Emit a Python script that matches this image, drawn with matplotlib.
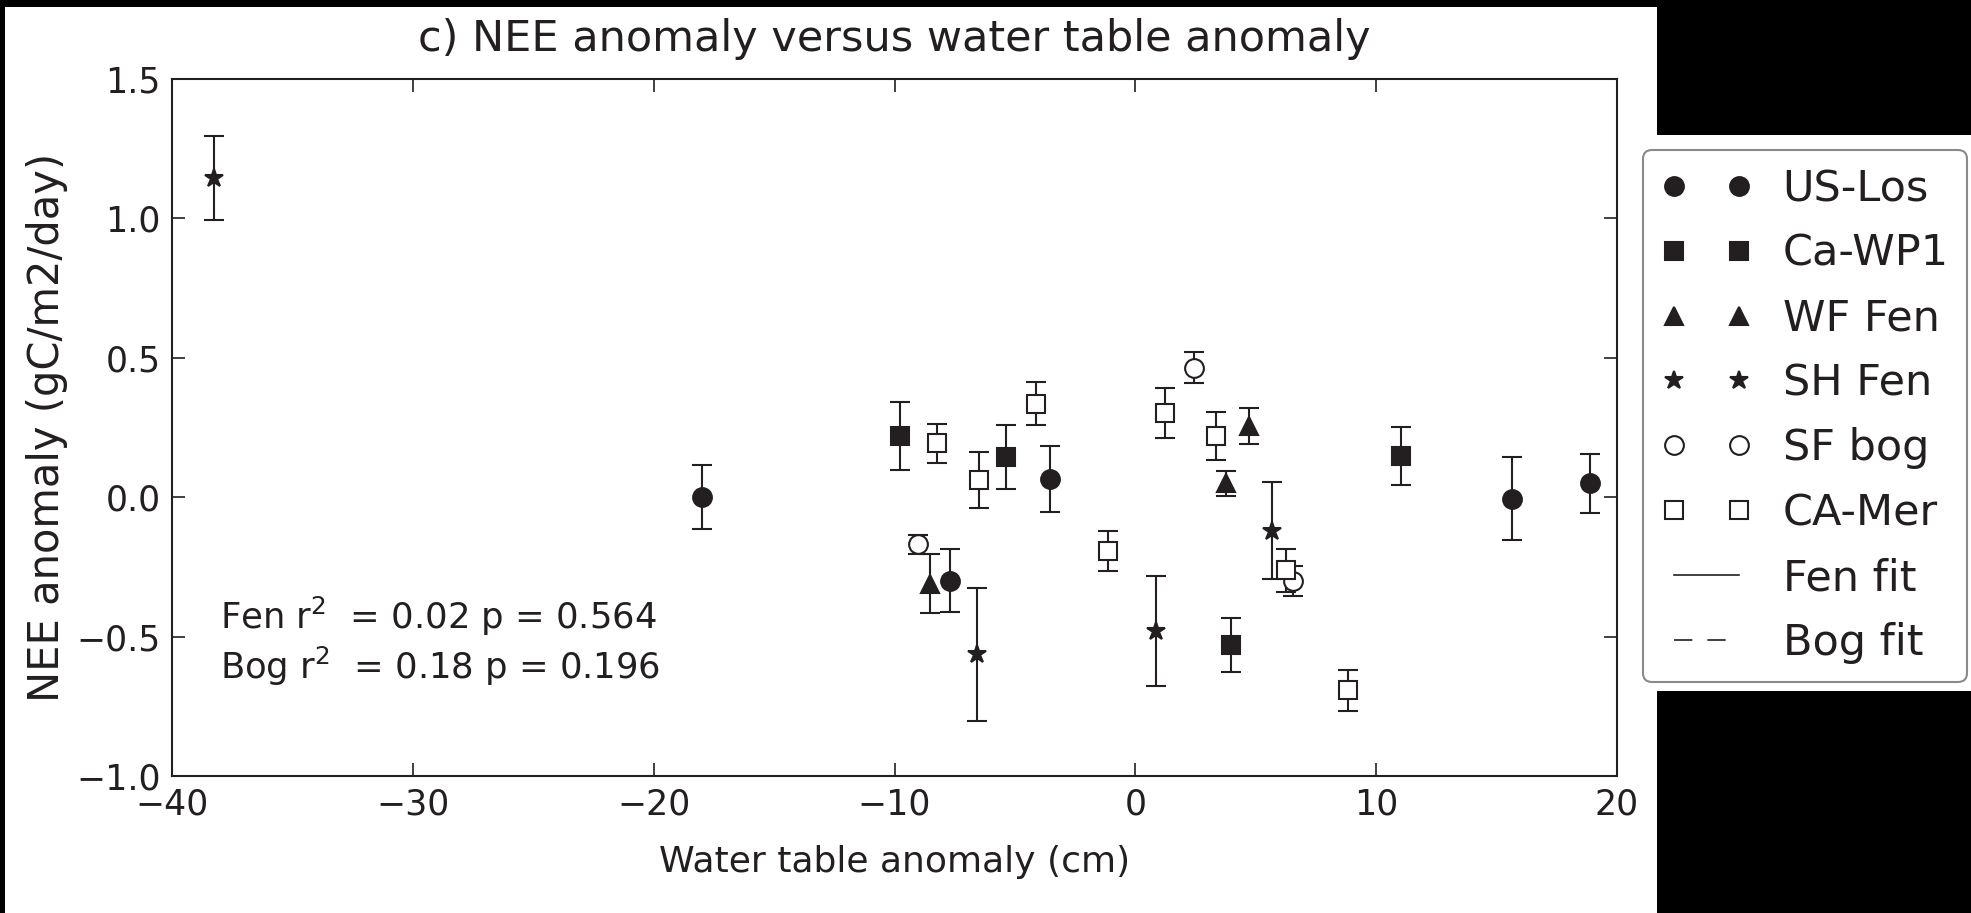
import matplotlib
matplotlib.use('Agg')
import matplotlib.pyplot as plt
from matplotlib.patches import Rectangle

# site means (water table anomaly in cm, NEE anomaly) with standard errors
los_x = [-18.0, -7.69, -3.54, 15.66, 18.89]
los_y = [0.0, -0.30, 0.065, -0.005, 0.05]
los_err = [0.115, 0.113, 0.118, 0.15, 0.105]

wp1_x = [-9.77, -5.37, 3.98, 11.04]
wp1_y = [0.22, 0.145, -0.53, 0.147]
wp1_err = [0.122, 0.115, 0.097, 0.104]

wf_x = [-8.52, 3.77, 4.70]
wf_y = [-0.31, 0.05, 0.255]
wf_err = [0.105, 0.044, 0.064]

sh_x = [-38.25, -6.58, 0.85, 5.67]
sh_y = [1.145, -0.563, -0.48, -0.12]
sh_err = [0.15, 0.238, 0.197, 0.174]

sf_x = [-9.01, 2.44, 6.54]
sf_y = [-0.169, 0.465, -0.30]
sf_err = [0.033, 0.055, 0.055]

mer_x = [-8.22, -6.49, -4.13, -1.12, 1.24, 3.34, 6.25, 8.81]
mer_y = [0.193, 0.063, 0.336, -0.193, 0.302, 0.219, -0.262, -0.692]
mer_err = [0.07, 0.10, 0.078, 0.072, 0.09, 0.087, 0.078, 0.073]

fen_stats = 'Fen r$^2$  = 0.02 p = 0.564'
bog_stats = 'Bog r$^2$  = 0.18 p = 0.196'

INK = '#231f20'

fig = plt.figure(figsize=(19.71, 9.13), dpi=100, facecolor='black')
# white paper behind the plot and behind the legend
fig.add_artist(Rectangle((0.0025, 0.0), 0.838, 0.992, transform=fig.transFigure,
                         facecolor='white', edgecolor='none', zorder=-10))
fig.add_artist(Rectangle((0.8336, 0.2431), 0.17, 0.6090, transform=fig.transFigure,
                         facecolor='white', edgecolor='none', zorder=-10))

ax = fig.add_axes([0.0873, 0.150, 0.7331, 0.7634])

sites = [
    (los_x, los_y, los_err, 'o', INK, 'US-Los'),
    (wp1_x, wp1_y, wp1_err, 's', INK, 'Ca-WP1'),
    (wf_x, wf_y, wf_err, '^', INK, 'WF Fen'),
    (sh_x, sh_y, sh_err, '*', INK, 'SH Fen'),
    (sf_x, sf_y, sf_err, 'o', 'white', 'SF bog'),
    (mer_x, mer_y, mer_err, 's', 'white', 'CA-Mer'),
]

for x, y, err, mk, face, name in sites:
    ax.errorbar(x, y, yerr=err, fmt='none', ecolor=INK, elinewidth=1.5,
                capsize=7, capthick=1.5)
for x, y, err, mk, face, name in sites:
    ax.plot(x, y, ls='none', marker=mk, markersize=13.5, markerfacecolor=face,
            markeredgecolor=INK, markeredgewidth=1.5, label=name)

# regression lines only appear in the legend
ax.plot([], [], color=INK, lw=1.2, ls='-', label='Fen fit')
ax.plot([], [], color=INK, lw=1.2, ls=(0, (11, 9)), label='Bog fit')

ax.text(0.033, 0.2296, fen_stats, transform=ax.transAxes, fontsize=25.5,
        color=INK, va='center', ha='left')
ax.text(0.033, 0.158, bog_stats, transform=ax.transAxes, fontsize=25.5,
        color=INK, va='center', ha='left')

ax.set_xlim(-40, 20)
ax.set_ylim(-1.0, 1.5)
ax.set_xticks([-40, -30, -20, -10, 0, 10, 20])
ax.set_yticks([-1.0, -0.5, 0.0, 0.5, 1.0, 1.5])
ax.tick_params(direction='in', length=9.5, width=1.2, top=True, right=True,
               labelsize=25, pad=8, colors=INK)
for s in ax.spines.values():
    s.set_linewidth(1.5)
    s.set_color(INK)

ax.set_title('c) NEE anomaly versus water table anomaly', fontsize=31,
             color=INK, pad=20)
ax.set_xlabel('Water table anomaly (cm)', fontsize=26, color=INK, labelpad=17)
ax.set_ylabel('NEE anomaly (gC/m2/day)', fontsize=30, color=INK, labelpad=6)

leg = ax.legend(loc='upper left', bbox_to_anchor=(0.8336, 0.8357),
                bbox_transform=fig.transFigure, borderaxespad=0, numpoints=2,
                fontsize=31, handlelength=2.1, handletextpad=0.72,
                labelspacing=0.53, borderpad=0.42, fancybox=True, framealpha=1)
leg.get_frame().set_edgecolor('#8a8a8a')
leg.get_frame().set_linewidth(1.5)
for t in leg.get_texts():
    t.set_color(INK)

fig.savefig('out.png', dpi=100, facecolor='black')
